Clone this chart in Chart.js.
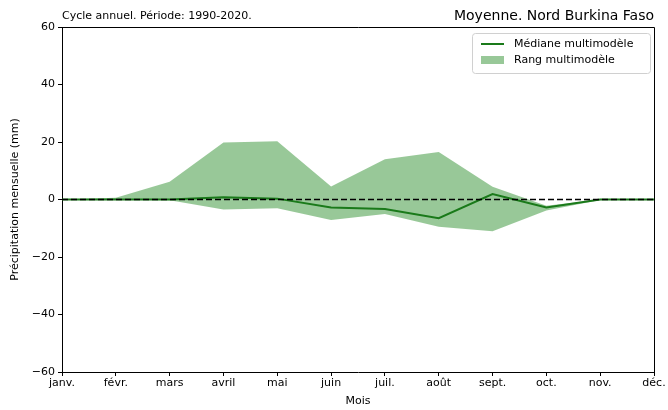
<!DOCTYPE html>
<html>
<head>
<meta charset="utf-8">
<script src="https://cdn.jsdelivr.net/npm/chart.js@4"></script>
<style>
  html, body { margin: 0; padding: 0; background: #fff; }
  #wrap { width: 668px; height: 410px; }
</style>
</head>
<body>
<div id="wrap"><canvas id="cycleChart" width="668" height="410"></canvas></div>
<script>
const months = ['janv.', 'févr.', 'mars', 'avril', 'mai', 'juin', 'juil.', 'août', 'sept.', 'oct.', 'nov.', 'déc.'];
const medianValues = [0, 0, 0, 0.8, 0.3, -2.8, -3.3, -6.5, 1.9, -2.8, 0, 0];
const upperValues = [0, 0.6, 6.2, 19.8, 20.3, 4.5, 14, 16.5, 4.4, -2.2, 0, 0];
const lowerValues = [0, 0, -0.3, -3.5, -3, -7.1, -5, -9.5, -11, -3.8, -0.2, 0];
const zeroValues = months.map(() => 0);

const FONT = 'DejaVu Sans';
const lineGreen = '#1a7a1a';
const fillGreen = 'rgba(40,140,40,0.48)';

// titles, top/right spines and the legend box
const decorPlugin = {
    id: 'decor',
    afterDraw(chart) {
        const ctx = chart.ctx;
        const a = chart.chartArea;
        ctx.save();
        ctx.strokeStyle = '#000';
        ctx.lineWidth = 1;
        ctx.beginPath();
        ctx.moveTo(a.left, a.top + 0.5);
        ctx.lineTo(a.right + 0.5, a.top + 0.5);
        ctx.lineTo(a.right + 0.5, a.bottom);
        ctx.stroke();

        ctx.fillStyle = '#000';
        ctx.textBaseline = 'alphabetic';
        ctx.font = '11px "' + FONT + '"';
        ctx.textAlign = 'left';
        ctx.fillText('Cycle annuel. Période: 1990-2020.', a.left, 19);
        ctx.font = '14px "' + FONT + '"';
        ctx.textAlign = 'right';
        ctx.fillText('Moyenne. Nord Burkina Faso', a.right, 20);

        // legend
        const lx = a.right - 182, ly = a.top + 6, lw = 178, lh = 40;
        ctx.fillStyle = 'rgba(255,255,255,0.85)';
        ctx.strokeStyle = '#d0d0d0';
        ctx.beginPath();
        ctx.roundRect(lx + 0.5, ly + 0.5, lw, lh, 3);
        ctx.fill();
        ctx.stroke();
        ctx.strokeStyle = lineGreen;
        ctx.lineWidth = 2;
        ctx.beginPath();
        ctx.moveTo(lx + 9, ly + 11);
        ctx.lineTo(lx + 32, ly + 11);
        ctx.stroke();
        ctx.fillStyle = fillGreen;
        ctx.fillRect(lx + 9, ly + 23, 23, 8);
        ctx.fillStyle = '#000';
        ctx.textAlign = 'left';
        ctx.textBaseline = 'middle';
        ctx.font = '11px "' + FONT + '"';
        ctx.fillText('Médiane multimodèle', lx + 42, ly + 11);
        ctx.fillText('Rang multimodèle', lx + 42, ly + 27);
        ctx.restore();
    }
};

const canvas = document.getElementById('cycleChart');
if (canvas) {
    const ctx = canvas.getContext('2d');
    new Chart(ctx, {
        type: 'line',
        data: {
            labels: months,
            datasets: [
                {
                    label: 'Zéro',
                    data: zeroValues,
                    borderColor: '#000',
                    borderWidth: 1.5,
                    borderDash: [6, 3],
                    pointRadius: 0,
                    fill: false,
                    order: 0
                },
                {
                    label: 'Médiane multimodèle',
                    data: medianValues,
                    borderColor: lineGreen,
                    borderWidth: 2,
                    pointRadius: 0,
                    fill: false,
                    order: 1
                },
                {
                    label: 'Rang max',
                    data: upperValues,
                    borderColor: 'rgba(0,0,0,0)',
                    backgroundColor: fillGreen,
                    borderWidth: 0,
                    pointRadius: 0,
                    fill: '+1',
                    order: 2
                },
                {
                    label: 'Rang min',
                    data: lowerValues,
                    borderColor: 'rgba(0,0,0,0)',
                    borderWidth: 0,
                    pointRadius: 0,
                    fill: false,
                    order: 3
                }
            ]
        },
        options: {
            responsive: false,
            animation: false,
            layout: { padding: { top: 27, right: 14, left: 9, bottom: 0 } },
            plugins: {
                legend: { display: false },
                tooltip: { enabled: false }
            },
            scales: {
                x: {
                    type: 'category',
                    offset: false,
                    grid: { display: true, drawOnChartArea: false, tickLength: 4, color: '#000' },
                    border: { display: true, color: '#000' },
                    ticks: { color: '#000', font: { family: FONT, size: 11 }, padding: 1, maxRotation: 0, autoSkip: false },
                    title: { display: true, text: 'Mois', color: '#000', font: { family: FONT, size: 11 }, padding: { top: 0, bottom: 2 } },
                    afterFit(scale) { scale.height = 38; }
                },
                y: {
                    min: -60,
                    max: 60,
                    grid: { display: true, drawOnChartArea: false, tickLength: 4, color: '#000' },
                    border: { display: true, color: '#000' },
                    ticks: {
                        stepSize: 20,
                        color: '#000',
                        font: { family: FONT, size: 11 },
                        padding: 3,
                        callback: v => String(v).replace('-', '\u2212')
                    },
                    title: { display: true, text: 'Précipitation mensuelle (mm)', color: '#000', font: { family: FONT, size: 11 }, padding: { top: 0, bottom: 4 } },
                    afterFit(scale) { scale.width = 53; }
                }
            }
        },
        plugins: [decorPlugin]
    });
} else {
    console.error('Chart canvas not found!');
}
</script>
</body>
</html>
